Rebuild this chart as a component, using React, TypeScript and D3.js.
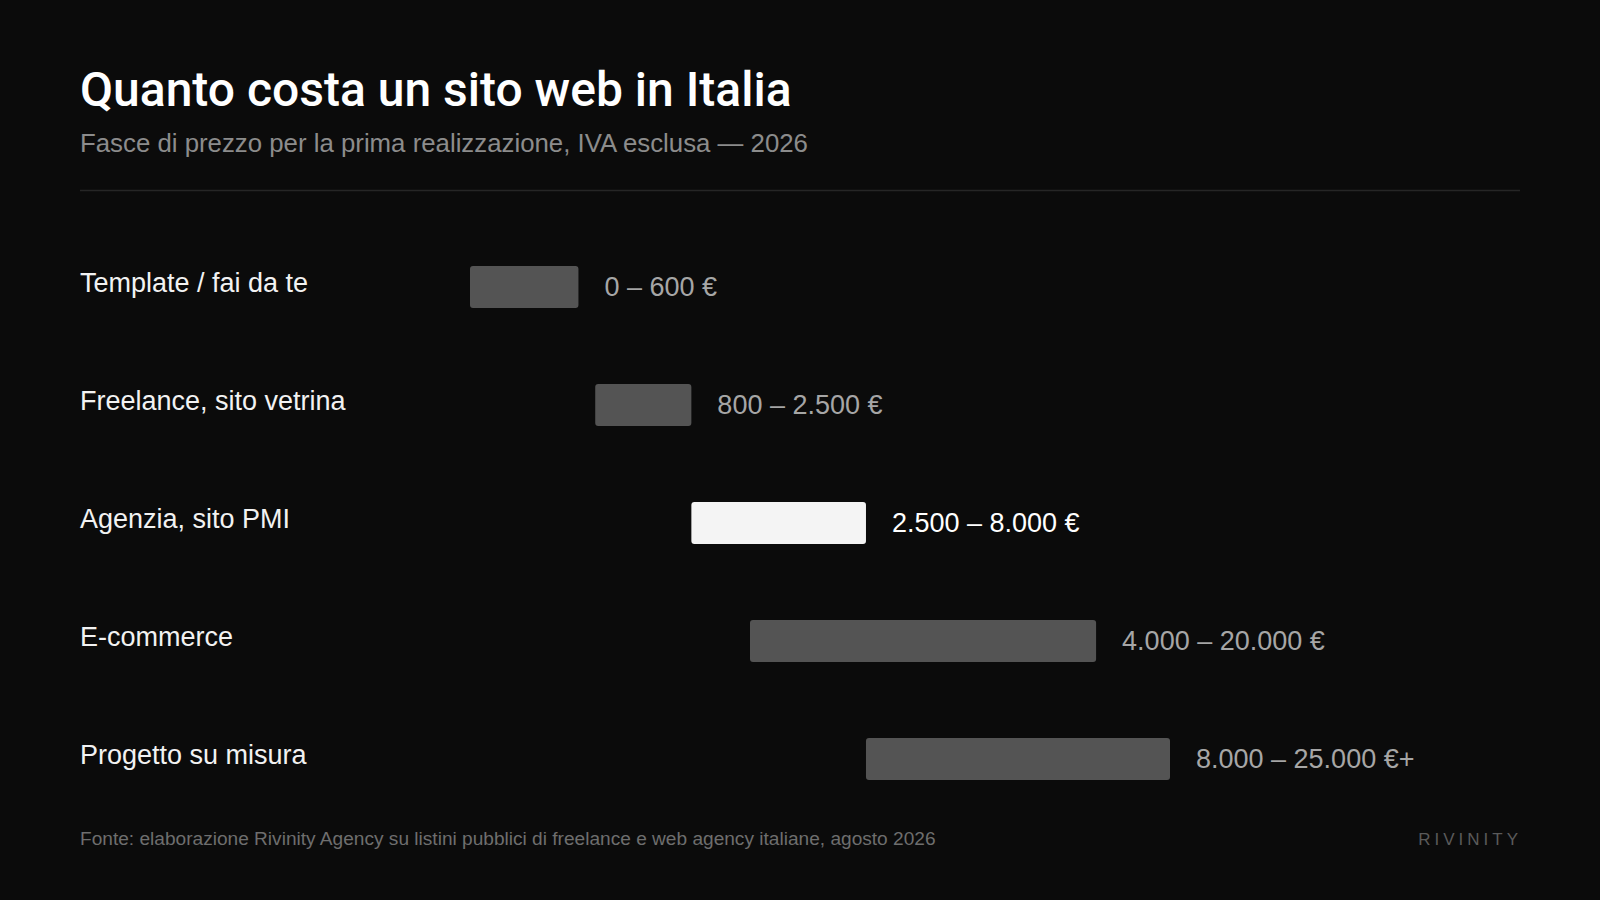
import React from "react";
import * as d3 from "d3";

const categories = [
  "Template / fai da te",
  "Freelance, sito vetrina",
  "Agenzia, sito PMI",
  "E-commerce",
  "Progetto su misura",
];
const minValues = [0, 800, 2500, 4000, 8000];
const maxValues = [600, 2500, 8000, 20000, 25000];
const valueLabels = [
  "0 – 600 €",
  "800 – 2.500 €",
  "2.500 – 8.000 €",
  "4.000 – 20.000 €",
  "8.000 – 25.000 €+",
];
const highlighted = "Agenzia, sito PMI";

const W = 1600;
const H = 900;
const FONT = "'Liberation Sans', Arial, Helvetica, sans-serif";
const TITLE_FONT = "Roboto, 'Liberation Sans', Arial, sans-serif";

export default function App() {
  const x = d3.scaleSqrt().domain([0, 25000]).range([470, 1170]);
  const y = d3.scalePoint<string>().domain(categories).range([287, 759]);
  const barH = 42;

  return (
    <div style={{ position: "fixed", left: 0, top: 0, width: W, height: H }}>
      <svg width={W} height={H} style={{ display: "block", background: "#0b0b0b" }}>
        <rect x={0} y={0} width={W} height={H} fill="#0b0b0b" />
        <text x={80} y={106} fill="#ffffff" fontFamily={TITLE_FONT} fontWeight={500} fontSize={48}>
          Quanto costa un sito web in Italia
        </text>
        <text x={80} y={152} fill="#8c8c8c" fontFamily={FONT} fontSize={25.8}>
          Fasce di prezzo per la prima realizzazione, IVA esclusa — 2026
        </text>
        <line x1={80} x2={1520} y1={190.5} y2={190.5} stroke="#262626" strokeWidth={1.5} />

        {categories.map((c, i) => {
          const cy = y(c) as number;
          const hl = c === highlighted;
          const x0 = x(minValues[i]);
          const x1 = x(maxValues[i]);
          return (
            <g key={c}>
              <text x={80} y={cy + 5} fill="#f2f2f2" fontFamily={FONT} fontSize={27}>
                {c}
              </text>
              <rect
                x={x0}
                y={cy - barH / 2}
                width={x1 - x0}
                height={barH}
                rx={3}
                fill={hl ? "#f4f4f4" : "#545454"}
              />
              <text
                x={x1 + 26}
                y={cy + 9}
                fill={hl ? "#ffffff" : "#a6a6a6"}
                fontFamily={FONT}
                fontSize={27}
              >
                {valueLabels[i]}
              </text>
            </g>
          );
        })}

        <text x={80} y={845} fill="#6e6e6e" fontFamily={FONT} fontSize={19.1}>
          Fonte: elaborazione Rivinity Agency su listini pubblici di freelance e web agency italiane, agosto 2026
        </text>
        <text
          x={1522}
          y={845}
          fill="#5a5a5a"
          fontFamily={FONT}
          fontSize={17}
          letterSpacing={4}
          textAnchor="end"
        >
          RIVINITY
        </text>
      </svg>
    </div>
  );
}
